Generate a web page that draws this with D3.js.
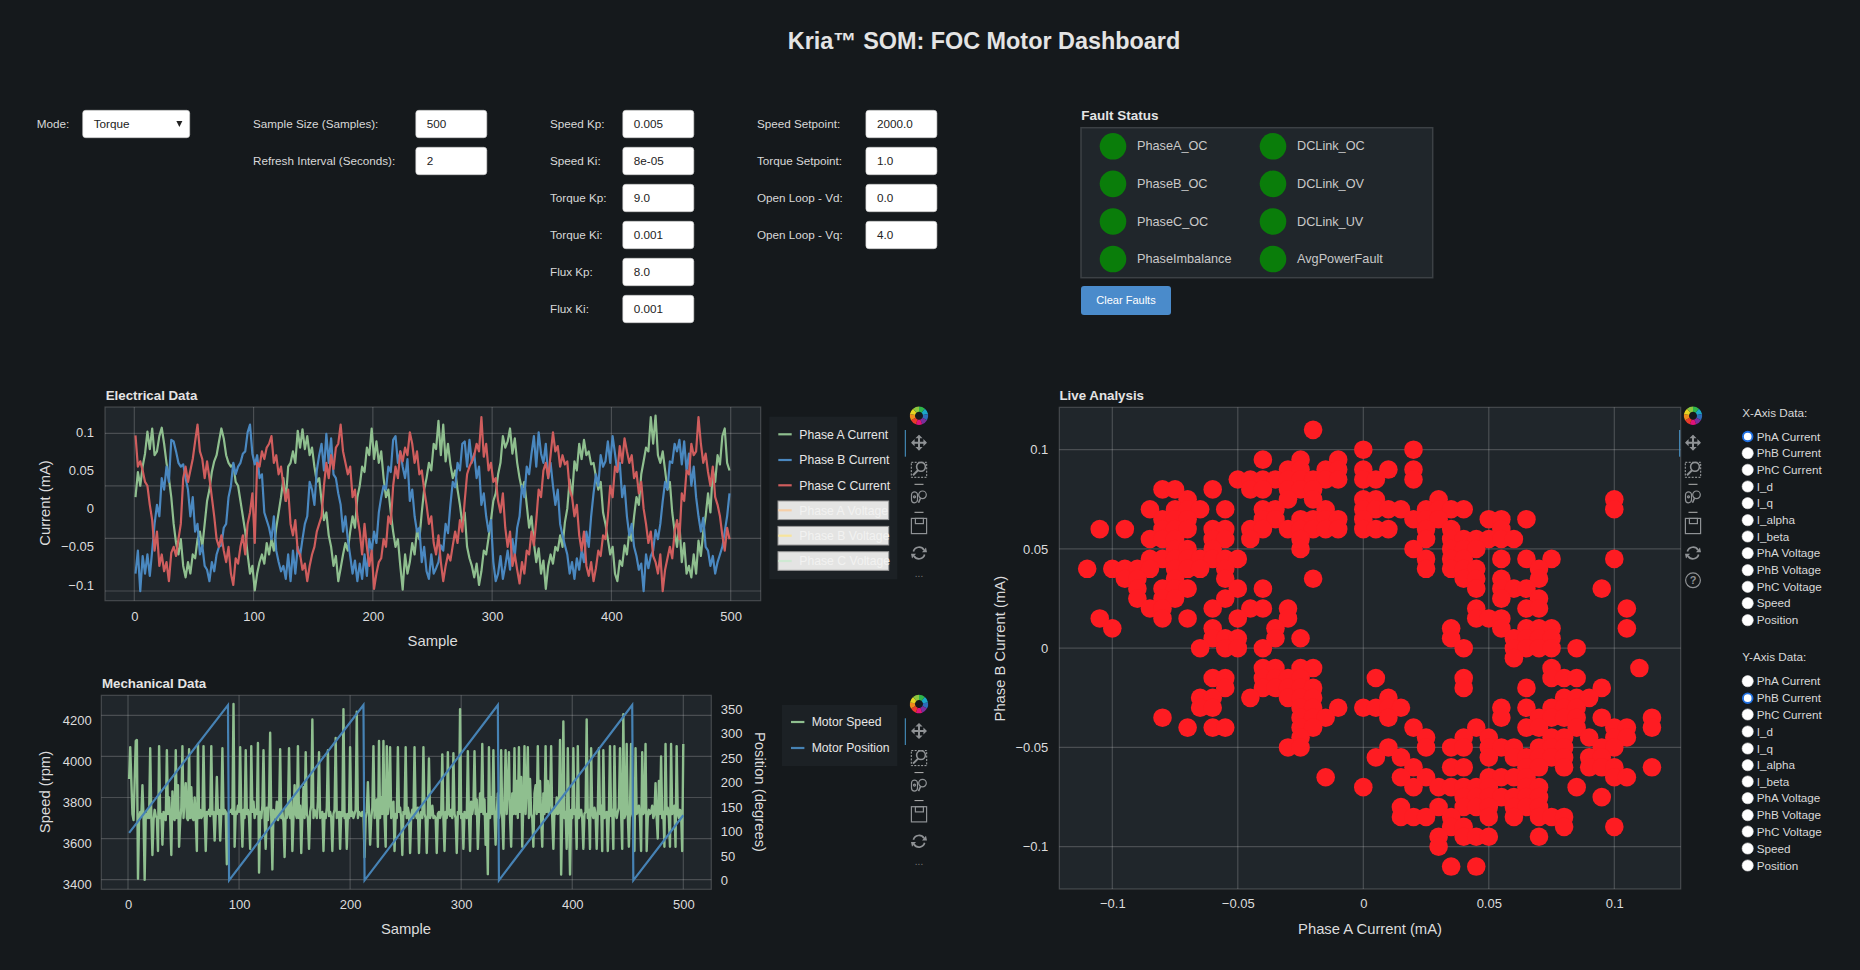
<!DOCTYPE html>
<html>
<head>
<meta charset="utf-8">
<script src="https://cdn.jsdelivr.net/npm/d3@7"></script>
<style>
  html, body { margin: 0; padding: 0; background: #15191c; overflow: hidden; }
  text { font-family: "Liberation Sans", Arial, sans-serif; }
</style>
</head>
<body>
<div id="chart"></div>
<script>
// ---- data ----

const ticksSample = [0, 100, 200, 300, 400, 500];
const ticksCurrent = [-100, -50, 0, 50, 100]; // thousandths of a mA
const ticksVoltageGrid = [-5, 0, 5, 10]; // grid of the hidden voltage axis
const ticksSpeed = [3400, 3600, 3800, 4000, 4200];
const ticksPosition = [0, 50, 100, 150, 200, 250, 300, 350];
const ticksScatter = [-0.1, -0.05, 0, 0.05, 0.1];

// phase currents, every 2nd sample starting at sample 1, thousandths of a mA
const phaseA = [
  15,48,30,55,72,101,78,105,70,75,95,106,85,60,40,15,-20,-45,-60,-40,-75,-90,-70,-85,-60,-65,-40,-30,-50,-20,
  10,25,48,62,70,88,105,92,70,60,55,58,35,30,10,-10,-30,-60,-85,-75,-107,-85,-70,-60,-72,-45,-60,-40,-55,-25,
  -5,15,40,10,55,60,75,60,102,80,104,78,95,70,80,55,35,40,10,-15,-5,-35,-50,-75,-62,-95,-78,-60,-45,-55,
  -30,-10,-25,15,30,55,48,80,70,105,65,88,60,75,40,15,25,-5,-30,-50,-40,-75,-106,-60,-85,-70,-45,-60,-28,-40,
  -5,25,40,60,50,85,78,115,70,110,62,85,58,40,50,25,5,-20,-5,-50,-65,-75,-90,-72,-100,-82,-55,-60,-38,-15,
  10,20,45,60,95,80,88,105,72,92,60,40,25,35,5,-25,-10,-45,-70,-52,-85,-68,-105,-75,-60,-72,-50,-55,-35,-50,
  -18,0,38,15,62,50,85,65,90,70,75,58,60,42,25,35,-5,-20,-40,-60,-50,-85,-95,-68,-75,-48,-60,-30,-42,-10,
  15,5,45,62,80,75,120,85,122,70,60,75,50,25,35,-5,-30,-50,-20,-70,-45,-85,-75,-90,-60,-85,-42,-62,-30,-10,
  20,-5,50,35,70,58,95,105,60,50
];
const phaseB = [
  -85,-55,-108,-62,-85,-60,-88,-55,-20,5,-10,40,25,55,35,90,88,75,60,55,58,40,25,-10,15,-30,-20,-60,-48,-75,
  -80,-95,-70,-82,-60,-50,-48,-25,-20,15,30,60,45,55,60,72,75,100,110,72,58,70,40,45,-5,-15,-25,-40,-10,-55,
  -70,-82,-75,-92,-60,-95,-55,-85,-50,-62,-40,-20,-10,35,25,5,50,70,85,50,98,60,92,45,40,20,5,-30,-10,-40,
  -62,-85,-68,-95,-72,-92,-60,-88,-40,-55,-30,-45,-5,15,30,25,55,48,90,95,60,75,55,40,65,10,25,-10,-30,-25,
  -70,-50,-82,-92,-60,-85,-78,-70,-48,-55,-20,-32,5,35,28,60,50,85,88,55,90,60,72,40,55,5,20,-10,-30,-15,
  -70,-95,-85,-62,-92,-75,-55,-80,-40,-62,-25,-10,30,15,55,45,72,95,55,100,72,60,85,40,60,30,5,25,-20,-35,
  -48,-60,-85,-70,-92,-65,-80,-55,-70,-30,-50,-10,20,45,30,70,55,62,88,60,95,72,48,60,15,30,-10,-35,-20,-50,
  -62,-80,-72,-108,-60,-78,-62,-55,-28,-40,-20,10,35,25,62,60,85,75,90,58,88,50,72,30,55,15,-10,-30,-12,-50,
  -55,-75,-62,-85,-70,-60,-50,-30,-10,20
];
const phaseC = [
  96,55,62,50,35,30,5,-15,-55,-30,-75,-60,-82,-70,-95,-58,-50,-62,-40,-20,40,55,35,50,65,88,110,75,65,40,
  62,40,15,-10,-40,-50,-35,-55,-70,-50,-85,-100,-65,-72,-50,-35,-60,-20,-5,20,-45,60,55,75,65,80,85,95,60,70,
  45,55,30,10,25,-20,-35,-15,-55,-60,-80,-72,-95,-75,-60,-50,-30,-20,-10,30,60,40,70,52,80,85,110,75,60,45,
  55,15,25,-10,-30,-60,-20,-50,-75,-55,-105,-85,-70,-65,-40,-50,-10,-20,30,55,40,75,62,80,70,100,85,60,75,45,
  50,25,5,-20,-10,-45,-60,-35,-70,-95,-75,-60,-68,-48,-30,-45,-15,-30,10,45,55,62,70,85,75,120,68,85,50,60,
  35,40,10,-5,20,-25,-50,-30,-75,-60,-80,-98,-70,-85,-55,-60,-30,-48,-15,25,15,50,60,40,70,100,75,82,55,70,
  58,62,25,15,-10,5,-35,-55,-30,-75,-88,-70,-95,-78,-55,-62,-35,-40,-10,30,15,55,48,82,60,92,75,60,70,40,
  48,20,35,0,-20,-45,-30,-62,-70,-85,-60,-108,-80,-65,-50,-65,-30,-15,-40,20,10,50,45,85,70,75,120,85,60,72,
  48,30,55,15,5,-10,-35,-55,-25,-40
];

// motor speed per sample, starting at sample 1
const motorSpeed = [
  3890,4045,3880,3720,3690,3880,4075,4080,3405,3700, 3730,3710,3860,3700,3400,3720,3700,3740,3700,4040,
  3710,3520,3690,3740,3710,3700,3540,4050,3700,3720, 3570,3730,3700,3690,4030,3720,3800,3700,3520,3830,
  3700,3690,4030,3700,3860,3560,3690,3750,4050,3700, 3800,3870,3700,3690,4035,3700,3850,3700,3690,3800,
  3700,3540,4060,3700,3740,3700,3710,4050,3720,3540, 3730,3720,3740,3710,4050,3720,3730,3590,3720,3900,
  3720,3740,3590,3730,4040,3720,3740,3730,3475,3720, 3730,3730,3740,3720,4255,3560,3730,3720,3760,3730,
  4045,3720,3560,3740,3700,4030,3720,3740,3700,3550, 4050,3730,3780,3700,3740,3720,4065,3435,3730,3700,
  3760,4030,3700,3550,3750,3690,3780,4115,3700,3450, 3740,3720,3700,3780,3690,3710,4035,3700,3730,3680,
  3510,3750,3700,3720,4040,3700,3790,3540,3700,3860, 3720,3700,4050,3700,3760,3530,3710,3850,3700,4020,
  3720,3700,3550,3730,3760,4180,3700,3740,3720,3700, 3780,4020,3700,3710,3730,3540,3720,3700,3750,4030,
  3710,3730,3700,3540,3720,3740,4090,3700,3720,3730, 3550,3730,3710,4230,3700,3720,3550,3720,3700,4045,
  3710,3730,3700,3720,3740,4218,3700,3730,3720,3710, 3730,3720,3510,3700,3730,3875,3730,3570,3700,3750,
  4050,3700,3760,3790,3560,4075,3700,3800,3720,4075, 3700,3560,4050,3720,3770,4045,3700,3740,3780,3540,
  3720,3700,4045,3730,3750,3700,3520,3730,3720,4045, 3700,3750,3720,3530,3710,3740,3700,4045,3720,3700,
  3750,3530,3710,3730,3700,4045,3720,3700,3530,3730, 3990,3700,3720,3760,3700,3710,3700,3530,3720,3730,
  3700,3720,4010,3700,3540,3730,3700,4020,3720,3710, 3740,3700,4015,3720,3700,3530,3730,3720,4230,3700,
  3720,3550,3730,3720,3700,4025,3710,3540,3780,3720, 3760,4025,3720,3790,3550,3700,3820,3730,4060,3720,
  3790,3570,3720,3427,4045,3700,3800,3720,4030,3720, 3570,3720,3820,3700,3730,4030,3700,3550,3790,4030,
  3720,3850,4020,3700,3560,3820,3720,4040,3720,3880, 3700,4045,3730,3900,3560,3780,4050,3720,3860,4045,
  3700,3890,3720,3700,3560,3820,3860,3720,4050,3730, 3880,3700,3560,3820,3720,4050,3730,3880,3720,3780,
  4050,3700,3550,3740,3720,3800,3720,3730,4080,3425, 3720,4170,3700,3730,3550,4040,3720,3425,3740,3700,
  4040,3720,3740,3550,4050,3700,3720,3740,3700,3550, 3720,3730,4180,3700,3740,3550,4040,3720,3700,3750,
  3720,3550,3730,4040,3720,3760,3540,4030,3700,3720, 3730,3540,3720,4050,3710,3740,3550,4050,3720,3700,
  3730,3750,4040,3720,3550,4205,3700,3720,4060,3720, 3560,3740,4060,3720,3700,3540,4040,3720,3730,3760,
  3700,3540,4020,3720,3730,4060,3540,3700,3740,3720, 3730,3760,3700,3720,3870,3700,3600,3880,3720,4000,
  3700,3730,3560,4060,3720,3750,3700,3560,4060,3720, 3730,3760,3560,4050,3720,3700,3740,3730,3540,4060,
];

// motor position, the ramps between wraps (sample, degrees)
const positionSamples = [1, 90, 91, 212, 213, 333, 334, 454, 455, 500];
const positionDegrees = [97, 358, 0, 358, 0, 358, 0, 358, 0, 133];

// Phase A vs Phase B current, both in steps of 0.005 mA
const scatterPoints = [
  [-4,22],[0,20],[4,20],[-8,19],[-5,19],[-2,19],[-6,18],[-5,18],[-3,18],[-2,18],[0,18],[2,18],[4,18],
  [-10,17],[-9,17],[-8,17],[-7,17],[-6,17],[-5,17],[-4,17],[-3,17],[-2,17],[0,17],[1,17],[4,17],
  [-16,16],[-15,16],[-12,16],[-9,16],[-8,16],[-6,16],[-5,16],[-4,16],[-14,15],[-6,15],[-4,15],[0,15],[1,15],[6,15],[20,15],
  [-17,14],[-15,14],[-14,14],[-13,14],[-11,14],[-8,14],[-7,14],[-3,14],[0,14],[1,14],[2,14],[3,14],[5,14],[6,14],[7,14],[8,14],[20,14],
  [-16,13],[-15,13],[-14,13],[-8,13],[-7,13],[-5,13],[-4,13],[-3,13],[-2,13],[0,13],[4,13],[5,13],[6,13],[10,13],[11,13],[13,13],
  [-21,12],[-19,12],[-16,12],[-15,12],[-14,12],[-12,12],[-11,12],[-9,12],[-8,12],[-6,12],[-5,12],[-4,12],[-3,12],[-2,12],[0,12],[1,12],[2,12],[5,12],[7,12],[11,12],
  [-17,11],[-16,11],[-15,11],[-12,11],[-11,11],[-9,11],[-5,11],[5,11],[7,11],[8,11],[9,11],[10,11],[11,11],[12,11],
  [-15,10],[-14,10],[-12,10],[-5,10],[4,10],[7,10],[8,10],[9,10],
  [-17,9],[-16,9],[-15,9],[-14,9],[-13,9],[-12,9],[-11,9],[-10,9],[5,9],[7,9],[8,9],[11,9],[13,9],[15,9],[20,9],
  [-22,8],[-20,8],[-19,8],[-18,8],[-17,8],[-15,8],[-14,8],[-13,8],[-11,8],[5,8],[7,8],[8,8],[9,8],[14,8],
  [-19,7],[-18,7],[-15,7],[-11,7],[-4,7],[8,7],[9,7],[11,7],[14,7],
  [-18,6],[-16,6],[-15,6],[-14,6],[-10,6],[-8,6],[9,6],[11,6],[12,6],[13,6],[19,6],
  [-18,5],[-16,5],[-15,5],[-11,5],[11,5],[14,5],
  [-17,4],[-16,4],[-12,4],[-9,4],[-8,4],[-6,4],[9,4],[13,4],[14,4],[21,4],
  [-21,3],[-16,3],[-14,3],[-10,3],[-6,3],[9,3],[10,3],[11,3],
  [-20,2],[-12,2],[-7,2],[7,2],[11,2],[13,2],[14,2],[15,2],[21,2],
  [-12,1],[-11,1],[-10,1],[-7,1],[-5,1],[7,1],[12,1],[13,1],[14,1],[15,1],
  [-13,0],[-11,0],[-10,0],[-8,0],[8,0],[12,0],[13,0],[14,0],[15,0],[17,0],[12,-1],
  [-8,-2],[-7,-2],[-5,-2],[-4,-2],[15,-2],[22,-2],
  [-12,-3],[-11,-3],[-8,-3],[-7,-3],[-6,-3],[-5,-3],[1,-3],[8,-3],[15,-3],[16,-3],[17,-3],
  [-11,-4],[-8,-4],[-7,-4],[-6,-4],[-5,-4],[-4,-4],[8,-4],[13,-4],[19,-4],
  [-13,-5],[-12,-5],[-9,-5],[-6,-5],[-5,-5],[-4,-5],[2,-5],[16,-5],[17,-5],[18,-5],
  [-13,-6],[-12,-6],[-5,-6],[-4,-6],[-2,-6],[0,-6],[1,-6],[2,-6],[3,-6],[11,-6],[13,-6],[15,-6],[16,-6],[17,-6],
  [-16,-7],[-5,-7],[-4,-7],[-3,-7],[2,-7],[11,-7],[14,-7],[15,-7],[16,-7],[17,-7],[19,-7],[23,-7],
  [-14,-8],[-12,-8],[-11,-8],[-5,-8],[-4,-8],[4,-8],[9,-8],[13,-8],[14,-8],[17,-8],[20,-8],[21,-8],[23,-8],
  [-5,-9],[5,-9],[8,-9],[10,-9],[15,-9],[16,-9],[18,-9],[20,-9],[21,-9],
  [-6,-10],[-5,-10],[2,-10],[5,-10],[7,-10],[8,-10],[10,-10],[11,-10],[12,-10],[14,-10],[15,-10],[16,-10],[19,-10],[20,-10],
  [1,-11],[3,-11],[10,-11],[12,-11],[13,-11],[14,-11],[15,-11],[16,-11],[18,-11],[19,-11],
  [4,-12],[7,-12],[8,-12],[13,-12],[14,-12],[16,-12],[18,-12],[19,-12],[20,-12],[23,-12],
  [-3,-13],[3,-13],[5,-13],[10,-13],[11,-13],[12,-13],[13,-13],[20,-13],[21,-13],
  [0,-14],[4,-14],[6,-14],[7,-14],[8,-14],[9,-14],[10,-14],[13,-14],[14,-14],[17,-14],
  [8,-15],[9,-15],[10,-15],[11,-15],[12,-15],[13,-15],[14,-15],[19,-15],
  [3,-16],[6,-16],[8,-16],[9,-16],[10,-16],[12,-16],[13,-16],[14,-16],
  [3,-17],[4,-17],[5,-17],[7,-17],[10,-17],[12,-17],[14,-17],[15,-17],[16,-17],
  [7,-18],[8,-18],[16,-18],[20,-18],[6,-19],[8,-19],[9,-19],[10,-19],[14,-19],
  [6,-20],[7,-22],[9,-22]
];

// widgets
const gainLabels = ["Speed Kp:", "Speed Ki:", "Torque Kp:", "Torque Ki:", "Flux Kp:", "Flux Ki:"];
const gainValues = ["0.005", "8e-05", "9.0", "0.001", "8.0", "0.001"];
const setpointLabels = ["Speed Setpoint:", "Torque Setpoint:", "Open Loop - Vd:", "Open Loop - Vq:"];
const setpointValues = ["2000.0", "1.0", "0.0", "4.0"];
const sampleLabels = ["Sample Size (Samples):", "Refresh Interval (Seconds):"];
const sampleValues = ["500", "2"];
const faultNames = ["PhaseA_OC", "PhaseB_OC", "PhaseC_OC", "PhaseImbalance", "DCLink_OC", "DCLink_OV", "DCLink_UV", "AvgPowerFault"];
const radioLabels = ["PhA Current", "PhB Current", "PhC Current", "I_d", "I_q", "I_alpha", "I_beta", "PhA Voltage", "PhB Voltage", "PhC Voltage", "Speed", "Position"];
const legendElectrical = ["Phase A Current", "Phase B Current", "Phase C Current", "Phase A Voltage", "Phase B Voltage", "Phase C Voltage"];
const legendMechanical = ["Motor Speed", "Motor Position"];

// ---- page ----

const BG = "#15191c", PLOT = "#20262b", GRID = "rgba(224,224,224,0.22)", TXT = "#dcdcdc";
const GREEN = "#8fbf8f", BLUE = "#4a88c0", RED = "#cf5d5d", DEEPBLUE = "#4682b4";
const SERIES_W = 2.2;

const svg = d3.select("#chart").append("svg").attr("width", 1860).attr("height", 970);
svg.append("rect").attr("width", 1860).attr("height", 970).attr("fill", BG);

function label(g, x, y, str, size, opts = {}) {
  return g.append("text").attr("x", x).attr("y", y).attr("dy", "0.35em")
    .attr("font-size", size).attr("fill", opts.fill || TXT)
    .attr("font-weight", opts.bold ? "bold" : null)
    .attr("text-anchor", opts.anchor || "start").text(str);
}

label(svg, 984, 41, "Kria™ SOM: FOC Motor Dashboard", 23.4, { bold: true, anchor: "middle", fill: "#e4e4e4" });

// text inputs
function inputBox(x, y, w, val) {
  svg.append("rect").attr("x", x).attr("y", y).attr("width", w).attr("height", 27.4)
    .attr("rx", 3).attr("fill", "#fff").attr("stroke", "#ccc").attr("stroke-width", 0.6);
  label(svg, x + 11, y + 14, val, 11.7, { fill: "#222" });
}
function inputColumn(labels, values, lx, ix) {
  labels.forEach((t, i) => {
    label(svg, lx, 124 + i * 37, t, 11.7, { fill: "#d8d8d8" });
    inputBox(ix, 110.3 + i * 37, 71, values[i]);
  });
}
label(svg, 36.7, 124, "Mode:", 11.7, { fill: "#d8d8d8" });
inputBox(82.7, 110.3, 107, "Torque");
svg.append("path").attr("d", "M176.4,121h6l-3,6z").attr("fill", "#222");
inputColumn(sampleLabels, sampleValues, 253, 415.8);
inputColumn(gainLabels, gainValues, 550, 622.8);
inputColumn(setpointLabels, setpointValues, 757, 865.9);

// fault panel
label(svg, 1081.3, 115, "Fault Status", 13.5, { bold: true, fill: "#e4e4e4" });
svg.append("rect").attr("x", 1081).attr("y", 127.7).attr("width", 351.7).attr("height", 150)
  .attr("fill", PLOT).attr("stroke", "#3c4145").attr("stroke-width", 1.5);
const faultX = d3.scalePoint().domain([0, 1]).range([1113, 1273]);
const faultY = d3.scalePoint().domain([0, 1, 2, 3]).range([146.3, 259]);
const faults = svg.append("g").selectAll("g").data(faultNames).join("g")
  .attr("transform", (d, i) => `translate(${faultX(i >> 2)},${faultY(i % 4)})`);
faults.append("circle").attr("r", 13.3).attr("fill", "#0a7d0a");
faults.append("text").attr("x", 24).attr("dy", "0.32em").attr("font-size", 12.7)
  .attr("fill", "#c9c9c9").text(d => d);
svg.append("rect").attr("x", 1081).attr("y", 286).attr("width", 90).attr("height", 29)
  .attr("rx", 3).attr("fill", "#4a8bcb");
label(svg, 1126, 300.5, "Clear Faults", 11, { anchor: "middle", fill: "#fff" });

// shared plot frame
function frame(x0, y0, x1, y1, title, titleX) {
  const g = svg.append("g");
  g.append("rect").attr("x", x0).attr("y", y0).attr("width", x1 - x0).attr("height", y1 - y0).attr("fill", PLOT);
  label(g, titleX, y0 - 12, title, 13.3, { bold: true, fill: "#e4e4e4" });
  return g;
}
function gridLines(g, xs, ys, b) {
  g.append("g").selectAll("line").data(xs).join("line")
    .attr("x1", d => d).attr("x2", d => d).attr("y1", b.y0).attr("y2", b.y1)
    .attr("stroke", GRID).attr("stroke-width", 1.2);
  g.append("g").selectAll("line").data(ys).join("line")
    .attr("y1", d => d).attr("y2", d => d).attr("x1", b.x0).attr("x2", b.x1)
    .attr("stroke", GRID).attr("stroke-width", 1.2);
}
function outline(g, b) {
  g.append("rect").attr("x", b.x0).attr("y", b.y0).attr("width", b.x1 - b.x0).attr("height", b.y1 - b.y0)
    .attr("fill", "none").attr("stroke", GRID).attr("stroke-width", 1.2);
}
function styleAxis(sel) {
  sel.select(".domain").remove();
  sel.selectAll("text").attr("font-size", 13).attr("fill", TXT).attr("font-family", '"Liberation Sans", Arial, sans-serif');
  sel.selectAll("line").remove();
}
function clipFor(id, b) {
  svg.append("clipPath").attr("id", id).append("rect")
    .attr("x", b.x0).attr("y", b.y0).attr("width", b.x1 - b.x0).attr("height", b.y1 - b.y0);
}
function axisLabel(g, x, y, str, rot) {
  const t = g.append("text").attr("font-size", 14.8).attr("fill", TXT).attr("text-anchor", "middle")
    .attr("dy", "0.35em").text(str);
  t.attr("transform", `translate(${x},${y})` + (rot ? ` rotate(${rot})` : ""));
}

// ---- electrical plot ----
{
  const b = { x0: 105, x1: 760.7, y0: 407, y1: 600.7 };
  const g = frame(b.x0, b.y0, b.x1, b.y1, "Electrical Data", 105.7);
  const x = d3.scaleLinear().domain([0, 500]).range([134.3, 730.7]);
  const y = d3.scaleLinear().domain([-100, 100]).range([585, 432.3]);
  const yVolt = d3.scaleLinear().domain([-5, 10]).range([591, 433.3]);
  gridLines(g, ticksSample.map(x), ticksVoltageGrid.map(yVolt), b);
  clipFor("clipE", b);
  const line = d3.line().x((d, i) => x(1 + i * 2)).y(d => y(d));
  [[phaseA, GREEN], [phaseB, BLUE], [phaseC, RED]].forEach(([s, c]) => {
    g.append("path").attr("clip-path", "url(#clipE)").attr("d", line(s))
      .attr("fill", "none").attr("stroke", c).attr("stroke-width", SERIES_W).attr("stroke-linejoin", "round");
  });
  outline(g, b);
  g.append("g").attr("transform", `translate(0,${b.y1})`)
    .call(d3.axisBottom(x).tickValues(ticksSample).tickSize(0).tickPadding(11).tickFormat(d3.format("d"))).call(styleAxis);
  g.append("g").attr("transform", `translate(${b.x0},0)`)
    .call(d3.axisLeft(y).tickValues(ticksCurrent).tickSize(0).tickPadding(11).tickFormat(d => d3.format("~g")(d / 1000))).call(styleAxis);
  axisLabel(g, 45, 503, "Current (mA)", -90);
  axisLabel(g, 432.7, 641, "Sample");
  drawLegend(769.3, 416.7, 128, 162.6, legendElectrical, [GREEN, BLUE, RED, "#f6cfa8", "#f7e49c", "#cfe9d3"], 778.3, 799.3,
    [434.3, 460, 485.3, 510.3, 535.7, 561], 3);
  toolbar(919, 415.7, 905.3, false);
}

// ---- mechanical plot ----
{
  const b = { x0: 101.3, x1: 711.3, y0: 695.3, y1: 889.3 };
  const g = frame(b.x0, b.y0, b.x1, b.y1, "Mechanical Data", 102);
  const x = d3.scaleLinear().domain([0, 500]).range([128, 683.3]);
  const y = d3.scaleLinear().domain([3400, 4200]).range([879.7, 715.3]);
  const yPos = d3.scaleLinear().domain([0, 350]).range([880.3, 709]);
  gridLines(g, ticksSample.map(x), ticksSpeed.map(y), b);
  clipFor("clipM", b);
  g.append("path").attr("clip-path", "url(#clipM)")
    .attr("d", d3.line().x((d, i) => x(i + 1)).y(d => y(d))(motorSpeed))
    .attr("fill", "none").attr("stroke", GREEN).attr("stroke-width", 2.4).attr("stroke-linejoin", "round");
  g.append("path").attr("clip-path", "url(#clipM)")
    .attr("d", d3.line().x(d => x(d)).y((d, i) => yPos(positionDegrees[i]))(positionSamples))
    .attr("fill", "none").attr("stroke", DEEPBLUE).attr("stroke-width", SERIES_W);
  outline(g, b);
  g.append("g").attr("transform", `translate(0,${b.y1})`)
    .call(d3.axisBottom(x).tickValues(ticksSample).tickSize(0).tickPadding(10).tickFormat(d3.format("d"))).call(styleAxis);
  // speed labels sit a little below their grid lines in the reference
  g.append("g").attr("transform", `translate(${b.x0},5)`)
    .call(d3.axisLeft(y).tickValues(ticksSpeed).tickSize(0).tickPadding(9.6).tickFormat(d3.format("d"))).call(styleAxis);
  g.append("g").attr("transform", `translate(${b.x1},0)`)
    .call(d3.axisRight(yPos).tickValues(ticksPosition).tickSize(0).tickPadding(9.4).tickFormat(d3.format("d"))).call(styleAxis);
  axisLabel(g, 45, 792, "Speed (rpm)", -90);
  axisLabel(g, 760, 792, "Position (degrees)", 90);
  axisLabel(g, 406, 929, "Sample");
  drawLegend(782, 705, 115.3, 61, legendMechanical, [GREEN, DEEPBLUE], 791, 811.7, [722, 748], 2);
  toolbar(919, 704, 905.3, false);
}

// ---- live analysis ----
{
  const b = { x0: 1059.3, x1: 1680.7, y0: 407.3, y1: 889 };
  const g = frame(b.x0, b.y0, b.x1, b.y1, "Live Analysis", 1059.5);
  const x = d3.scaleLinear().domain([-0.1, 0.1]).range([1112.3, 1614.3]);
  const y = d3.scaleLinear().domain([-0.1, 0.1]).range([846.7, 449.7]);
  gridLines(g, ticksScatter.map(x), ticksScatter.map(y), b);
  g.append("g").selectAll("circle").data(scatterPoints).join("circle")
    .attr("cx", d => x(d[0] * 0.005)).attr("cy", d => y(d[1] * 0.005)).attr("r", 9.3).attr("fill", "#fe1c22");
  outline(g, b);
  g.append("g").attr("transform", `translate(0,${b.y1})`)
    .call(d3.axisBottom(x).tickValues(ticksScatter).tickSize(0).tickPadding(10).tickFormat(d3.format("~g"))).call(styleAxis);
  g.append("g").attr("transform", `translate(${b.x0},0)`)
    .call(d3.axisLeft(y).tickValues(ticksScatter).tickSize(0).tickPadding(11).tickFormat(d3.format("~g"))).call(styleAxis);
  axisLabel(g, 1000, 648.7, "Phase B Current (mA)", -90);
  axisLabel(g, 1370, 928.7, "Phase A Current (mA)");
  toolbar(1693, 415.7, 1679.7, true);
}

// radio groups
function radioGroup(title, ty, rows, selected) {
  label(svg, 1742.3, ty, title, 11.7, { fill: "#d8d8d8" });
  rows.forEach((ry, i) => {
    svg.append("circle").attr("cx", 1747.7).attr("cy", ry).attr("r", selected === i ? 4.8 : 5.6)
      .attr("fill", "#fff").attr("stroke", selected === i ? "#1f6fe0" : "#e8e8e8")
      .attr("stroke-width", selected === i ? 1.9 : 0.6);
    label(svg, 1756.7, ry, radioLabels[i], 11.7, { fill: "#d8d8d8" });
  });
}
radioGroup("X-Axis Data:", 412.5, [436.5, 453.2, 469.8, 486.5, 503.2, 520.2, 536.5, 553.2, 570.2, 586.8, 603.2, 620.2], 0);
radioGroup("Y-Axis Data:", 657.2, [681.2, 698.2, 714.5, 731.5, 748.5, 765.2, 781.5, 798.2, 815.2, 831.5, 848.5, 865.5], 1);

// ---- legend and toolbar helpers ----
function drawLegend(x, y, w, h, names, colours, gx, tx, rows, active) {
  const g = svg.append("g");
  g.append("rect").attr("x", x).attr("y", y).attr("width", w).attr("height", h).attr("fill", "#1c2125");
  names.forEach((n, i) => {
    if (i >= active) {
      g.append("rect").attr("x", gx - 0.3).attr("y", rows[i] - 9.3).attr("width", 110.7).attr("height", 18.6)
        .attr("fill", "#e4e4e3").attr("stroke", "#9a9a9a").attr("stroke-width", 1);
    }
    g.append("line").attr("x1", gx).attr("x2", gx + 13.4).attr("y1", rows[i]).attr("y2", rows[i])
      .attr("stroke", colours[i]).attr("stroke-width", SERIES_W);
    label(g, tx, rows[i], n, 12.2, { fill: i >= active ? "#f2f2f1" : "#e6e6e6" });
  });
}

function toolbar(cx, top, barX, live) {
  const ICON = "#8f9295";
  const g = svg.append("g").attr("fill", "none").attr("stroke", ICON).attr("stroke-width", 1.6);
  // logo
  const ringColours = ["#2fb54a", "#1aa7c9", "#2e6bb8", "#7a2e9b", "#e0127a", "#ea3a2a", "#f08a1c", "#e6d422", "#8cc63f"];
  const arc = d3.arc().innerRadius(4).outerRadius(9.2);
  const pie = d3.pie().value(1).sort(null)(ringColours);
  g.append("g").attr("transform", `translate(${cx},${top})`).attr("stroke", "none")
    .selectAll("path").data(pie).join("path").attr("d", arc).attr("fill", d => d.data);
  // active tool bar
  g.append("line").attr("x1", barX).attr("x2", barX).attr("y1", top + 14.3).attr("y2", top + 41)
    .attr("stroke", "#4a9bd0").attr("stroke-width", 1);
  // pan
  const pan = g.append("g").attr("transform", `translate(${cx},${top + 27})`).attr("stroke-width", 2);
  pan.append("path").attr("d", "M-7,0H7M0,-7V7");
  pan.append("path").attr("stroke", "none").attr("fill", ICON)
    .attr("d", "M-8,0l3.6,-3.6v7.2zM8,0l-3.6,-3.6v7.2zM0,-8l-3.6,3.6h7.2zM0,8l-3.6,-3.6h7.2z");
  // box zoom
  const bz = g.append("g").attr("transform", `translate(${cx},${top + 53.6})`);
  bz.append("rect").attr("x", -7.7).attr("y", -7).attr("width", 15.4).attr("height", 15)
    .attr("stroke-width", 1).attr("stroke-dasharray", "2 1.4").attr("stroke", "#a5a8aa");
  bz.append("circle").attr("cx", 2).attr("cy", -2.5).attr("r", 4.4);
  bz.append("path").attr("d", "M-1,1L-6,6").attr("stroke-width", 2);
  // separators
  [68.6, 96.6].forEach(d => g.append("line").attr("x1", cx - 4.5).attr("x2", cx + 4.5)
    .attr("y1", top + d).attr("y2", top + d).attr("stroke", "#b5b5b5").attr("stroke-width", 1));
  // wheel zoom
  const wz = g.append("g").attr("transform", `translate(${cx},${top + 81.6})`).attr("stroke-width", 1.2);
  wz.append("rect").attr("x", -7.5).attr("y", -5.5).attr("width", 6).attr("height", 11).attr("rx", 3);
  wz.append("circle").attr("cx", -4.5).attr("cy", -0.5).attr("r", 1);
  wz.append("circle").attr("cx", 3.5).attr("cy", -2.5).attr("r", 3.8);
  wz.append("path").attr("d", "M1.5,1L-0.5,5.5").attr("stroke-width", 1.6);
  // save
  const sv = g.append("g").attr("transform", `translate(${cx},${top + 110.3})`).attr("stroke-width", 1.2);
  sv.append("rect").attr("x", -7.6).attr("y", -7.6).attr("width", 15.2).attr("height", 15.2);
  sv.append("rect").attr("x", -3.6).attr("y", -7.6).attr("width", 8).attr("height", 5.2);
  // reset
  const rs = g.append("g").attr("transform", `translate(${cx},${top + 137.3})`).attr("stroke-width", 1.7);
  rs.append("path").attr("d", "M-5.6,-1.5A5.8,5.8 0 0 1 5,-3");
  rs.append("path").attr("d", "M5.6,1.5A5.8,5.8 0 0 1 -5,3");
  rs.append("path").attr("stroke", "none").attr("fill", ICON).attr("d", "M3,-0.8L8,-0.8L7,-5.5zM-3,0.8L-8,0.8L-7,5.5z");
  if (live) {
    g.append("circle").attr("cx", cx).attr("cy", top + 164.6).attr("r", 7.4).attr("stroke-width", 1.2);
    g.append("text").attr("x", cx).attr("y", top + 164.6).attr("dy", "0.36em").attr("text-anchor", "middle")
      .attr("font-size", 11).attr("font-weight", "bold").attr("fill", ICON).attr("stroke", "none").text("?");
  } else {
    g.append("text").attr("x", cx).attr("y", top + 161).attr("text-anchor", "middle")
      .attr("font-size", 10).attr("fill", "#777").attr("stroke", "none").text("...");
  }
}
</script>
</body>
</html>
